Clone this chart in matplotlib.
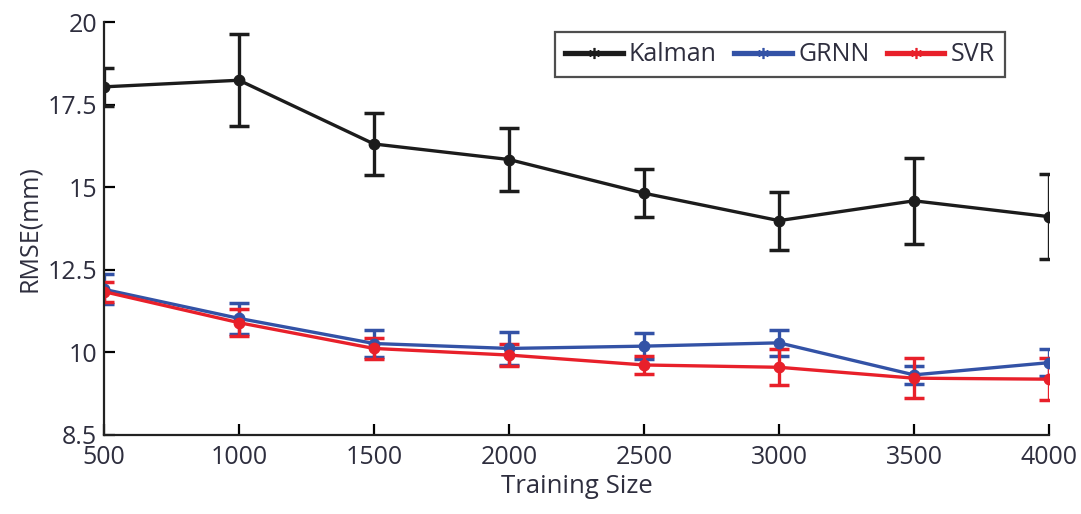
import numpy as np
import matplotlib
matplotlib.use("Agg")
import matplotlib.pyplot as plt
from matplotlib.lines import Line2D

# ---- data ----
training_size = [500, 1000, 1500, 2000, 2500, 3000, 3500, 4000]

kalman     = [18.04, 18.24, 16.31, 15.84, 14.82, 13.99, 14.59, 14.11]
kalman_err = [0.57, 1.40, 0.93, 0.95, 0.72, 0.88, 1.31, 1.29]

grnn     = [11.91, 11.03, 10.27, 10.12, 10.19, 10.29, 9.32, 9.69]
grnn_err = [0.45, 0.47, 0.40, 0.50, 0.40, 0.39, 0.27, 0.40]

svr     = [11.84, 10.90, 10.12, 9.92, 9.62, 9.55, 9.22, 9.19]
svr_err = [0.30, 0.40, 0.32, 0.33, 0.26, 0.55, 0.60, 0.64]

y_ticks = [7.5, 10, 12.5, 15, 17.5, 20]
y_tick_labels = ["8.5", "10", "12.5", "15", "17.5", "20"]   # as printed in the original
x_ticks = training_size

series = [
    ("Kalman", kalman, kalman_err, "#1c1c1c"),
    ("GRNN", grnn, grnn_err, "#3352a6"),
    ("SVR", svr, svr_err, "#e8202a"),
]

plt.rcParams["font.family"] = ["Open Sans", "DejaVu Sans"]
txt_color = "#2e2e3e"

fig = plt.figure(figsize=(10.81, 5.14), dpi=100)
ax = fig.add_axes([0.0962, 0.1537, 0.8742, 0.8033])

handles = []
for name, vals, err, col in series:
    ax.errorbar(training_size, vals, yerr=err, color=col, lw=2.4,
                marker="o", ms=7.5, capsize=7, capthick=2.5, elinewidth=2.4)
    handles.append(Line2D([0], [0], color=col, lw=3.8, marker=(6, 2, 0),
                          ms=8, mew=1.2, label=name))

ax.set_xlim(500, 4000)
ax.set_ylim(7.5, 20)
ax.set_xticks(x_ticks)
ax.set_xticklabels([str(v) for v in x_ticks])
ax.set_yticks(y_ticks)
ax.set_yticklabels(y_tick_labels)

for s in ["top", "right"]:
    ax.spines[s].set_visible(False)
for s in ["left", "bottom"]:
    ax.spines[s].set_linewidth(1.6)
    ax.spines[s].set_color("#222222")

ax.tick_params(direction="in", length=8, width=1.6, labelsize=18,
               labelcolor=txt_color, pad=5)
ax.tick_params(axis="x", pad=7)

ax.set_xlabel("Training Size", fontsize=18.5, color=txt_color, labelpad=3)
ax.set_ylabel("RMSE(mm)", fontsize=18, color=txt_color, labelpad=4)

leg = ax.legend(handles=handles, loc="upper right", ncol=3, fontsize=18,
                bbox_to_anchor=(0.953, 0.975), frameon=True, fancybox=False,
                handlelength=2.3, handletextpad=0.25, columnspacing=0.7,
                borderpad=0.4, borderaxespad=0)
leg.get_frame().set_edgecolor("#222222")
leg.get_frame().set_linewidth(1.6)
for t in leg.get_texts():
    t.set_color(txt_color)

plt.savefig("out.png", dpi=100)
